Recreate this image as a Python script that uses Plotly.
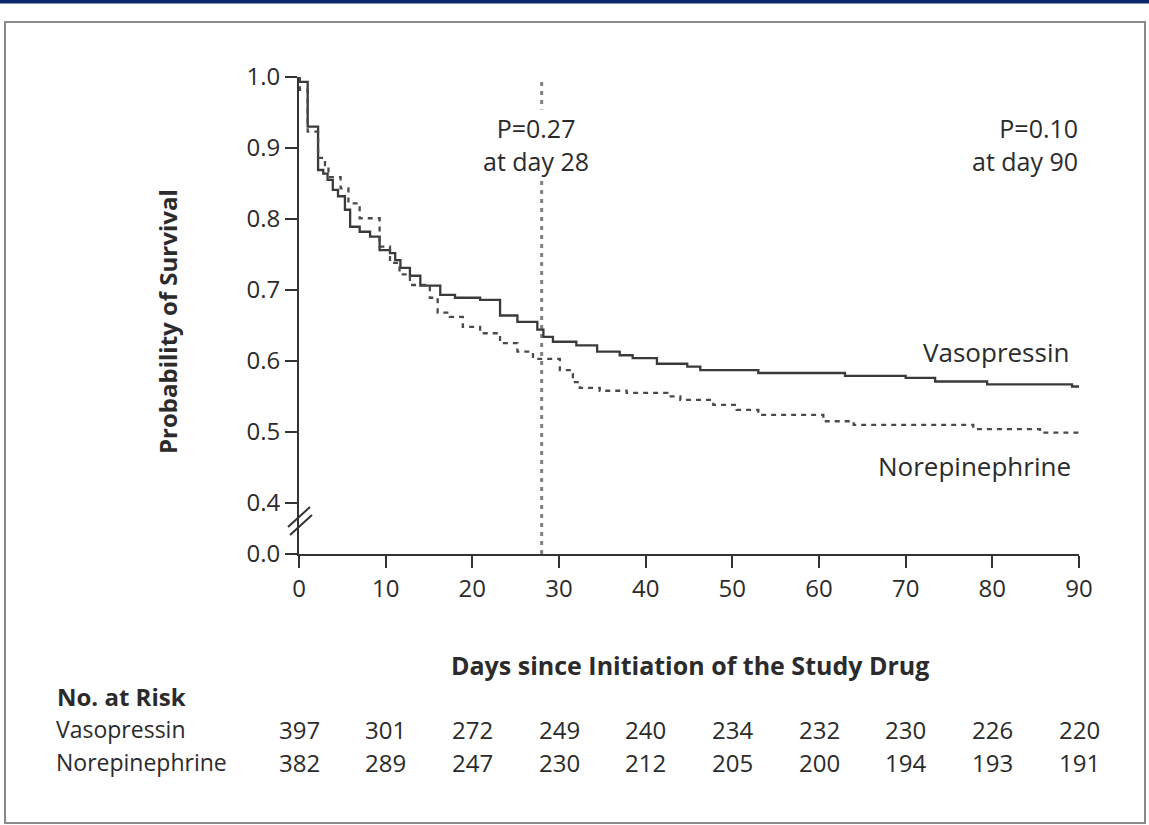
import plotly.graph_objects as go

# ---------------- data ----------------
vaso_days = [0, 0.1, 1.0, 2.2, 2.8, 3.3, 3.9, 4.5, 5.3, 5.9, 7.0, 8.2, 9.3, 10.5, 11.1, 11.7,
             12.8, 14.0, 16.3, 18.0, 20.9, 23.2, 25.2, 27.5, 28.2, 29.3, 32.0, 34.4, 37.0,
             38.5, 41.3, 44.8, 46.3, 53.0, 63.0, 70.0, 73.4, 79.4, 89.2, 90]
vaso_surv = [1.0, 0.993, 0.930, 0.869, 0.864, 0.855, 0.841, 0.832, 0.813, 0.789, 0.782, 0.775,
             0.756, 0.752, 0.742, 0.731, 0.720, 0.706, 0.693, 0.689, 0.686, 0.664, 0.655,
             0.644, 0.634, 0.627, 0.622, 0.613, 0.608, 0.604, 0.596, 0.592, 0.587, 0.583,
             0.579, 0.576, 0.571, 0.567, 0.564, 0.564]

nore_days = [0, 0.1, 1.0, 2.2, 3.0, 3.4, 4.8, 5.7, 7.0, 9.3, 10.5, 11.6, 12.8, 15.1, 16.0,
             17.4, 18.9, 20.9, 23.2, 25.2, 27.0, 30.1, 31.6, 32.4, 34.7, 37.8, 42.5, 44.0,
             47.8, 50.5, 53.0, 60.5, 64.0, 77.8, 85.5, 90]
nore_surv = [1.0, 0.982, 0.923, 0.886, 0.876, 0.859, 0.843, 0.822, 0.801, 0.761, 0.738, 0.722,
             0.707, 0.689, 0.668, 0.662, 0.648, 0.639, 0.625, 0.613, 0.603, 0.587, 0.570,
             0.562, 0.558, 0.555, 0.550, 0.545, 0.538, 0.531, 0.524, 0.515, 0.510, 0.504,
             0.499, 0.499]

x_ticks = [0, 10, 20, 30, 40, 50, 60, 70, 80, 90]
y_tick_labels = ["0.0", "0.4", "0.5", "0.6", "0.7", "0.8", "0.9", "1.0"]
y_tick_true = [0.0, 0.4, 0.5, 0.6, 0.7, 0.8, 0.9, 1.0]

risk_vaso = [397, 301, 272, 249, 240, 234, 232, 230, 226, 220]
risk_nore = [382, 289, 247, 230, 212, 205, 200, 194, 193, 191]

# ---------------- geometry ----------------
W, H = 1149, 825
L, R, T, B = 299, 70, 77, 271
PW, PH = W - L - R, H - T - B
BREAK_ZERO = 0.328  # axis position used for the broken "0.0" tick


def fake_y(v):
    return BREAK_ZERO if v == 0.0 else v


def px(xp):
    return (xp - L) / PW


def py(yp):
    return (H - B - yp) / PH


FONT = "Open Sans"
TXT = "#2b2b2b"

fig = go.Figure()
fig.add_trace(go.Scatter(x=vaso_days, y=vaso_surv, mode="lines", line_shape="hv",
                         line=dict(color="#3a3a3a", width=2.3), name="Vasopressin",
                         showlegend=False, hoverinfo="skip"))
fig.add_trace(go.Scatter(x=nore_days, y=nore_surv, mode="lines", line_shape="hv",
                         line=dict(color="#4a4a4a", width=2.3, dash="5px,5px"),
                         name="Norepinephrine", showlegend=False, hoverinfo="skip"))

shapes = []
# navy top band
shapes.append(dict(type="rect", xref="paper", yref="paper", x0=px(0), x1=px(W), y0=py(3.5), y1=py(0),
                   fillcolor="#0b2a6b", line=dict(width=0), layer="above"))
# frame
shapes.append(dict(type="rect", xref="paper", yref="paper", x0=px(5), x1=px(1145), y0=py(823),
                   y1=py(22), line=dict(color="#8a8a8a", width=2), fillcolor="rgba(0,0,0,0)",
                   layer="below"))
# day 28 dotted line
shapes.append(dict(type="line", xref="x", yref="y", x0=28, x1=28, y0=BREAK_ZERO, y1=1.0,
                   line=dict(color="#808080", width=3, dash="4px,5px"), layer="below"))
# axis break marks
for (xa, ya, xb, yb) in [(288, 527, 310, 507), (290, 535, 312, 515)]:
    shapes.append(dict(type="line", xref="paper", yref="paper", x0=px(xa), y0=py(ya),
                       x1=px(xb), y1=py(yb), line=dict(color="#333333", width=2)))

ann = []
ann.append(dict(text="P=0.27<br>at day 28", x=px(536), y=py(144), xref="paper", yref="paper",
                showarrow=False, xanchor="center", yanchor="middle", align="center",
                bgcolor="white", font=dict(family=FONT, size=25, color=TXT)))
ann.append(dict(text="P=0.10<br>at day 90", x=px(1080), y=py(144), xref="paper", yref="paper",
                showarrow=False, xanchor="right", yanchor="middle", align="right",
                font=dict(family=FONT, size=25, color=TXT)))
ann.append(dict(text="Vasopressin", x=px(1071), y=py(352), xref="paper", yref="paper",
                showarrow=False, xanchor="right", yanchor="middle",
                font=dict(family=FONT, size=26, color=TXT)))
ann.append(dict(text="Norepinephrine", x=px(1073), y=py(466), xref="paper", yref="paper",
                showarrow=False, xanchor="right", yanchor="middle",
                font=dict(family=FONT, size=26, color=TXT)))
ann.append(dict(text="<b>Probability of Survival</b>", x=px(167), y=py(322), xref="paper",
                yref="paper", showarrow=False, textangle=-90, xanchor="center", yanchor="middle",
                font=dict(family=FONT, size=24, color=TXT)))
ann.append(dict(text="<b>Days since Initiation of the Study Drug</b>", x=px(690), y=py(665),
                xref="paper", yref="paper", showarrow=False, xanchor="center", yanchor="middle",
                font=dict(family=FONT, size=25, color=TXT)))
ann.append(dict(text="<b>No. at Risk</b>", x=px(55), y=py(696), xref="paper", yref="paper",
                showarrow=False, xanchor="left", yanchor="middle",
                font=dict(family=FONT, size=24, color=TXT)))
for label, row, ypix in [("Vasopressin", risk_vaso, 729), ("Norepinephrine", risk_nore, 762)]:
    ann.append(dict(text=label, x=px(55), y=py(ypix), xref="paper", yref="paper",
                    showarrow=False, xanchor="left", yanchor="middle", borderpad=0,
                    font=dict(family=FONT, size=23, color=TXT)))
    for xv, n in zip(x_ticks, row):
        ann.append(dict(text=str(n), x=xv, y=py(ypix), xref="x", yref="paper",
                        showarrow=False, xanchor="center", yanchor="middle", borderpad=0,
                        font=dict(family=FONT, size=24, color=TXT)))

fig.update_layout(
    width=W, height=H, autosize=False,
    margin=dict(l=L, r=R, t=T, b=B, pad=0),
    paper_bgcolor="white", plot_bgcolor="white",
    shapes=shapes, annotations=ann, showlegend=False,
    xaxis=dict(range=[0, 90], tickvals=x_ticks, ticktext=[str(v) for v in x_ticks],
               showgrid=False, zeroline=False, showline=True, linecolor="#333333", linewidth=2,
               ticks="outside", ticklen=12, tickwidth=2, tickcolor="#333333",
               tickfont=dict(family=FONT, size=24, color=TXT), fixedrange=True),
    yaxis=dict(range=[BREAK_ZERO, 1.0], tickvals=[fake_y(v) for v in y_tick_true],
               ticktext=y_tick_labels, showgrid=False, zeroline=False, showline=True,
               linecolor="#333333", linewidth=2, ticks="outside", ticklen=12, tickwidth=2,
               tickcolor="#333333", tickfont=dict(family=FONT, size=24, color=TXT),
               fixedrange=True),
)

fig.write_html("out.html", config={"displayModeBar": False},
               post_script="document.body.style.margin='0';document.body.style.overflow='hidden';")
